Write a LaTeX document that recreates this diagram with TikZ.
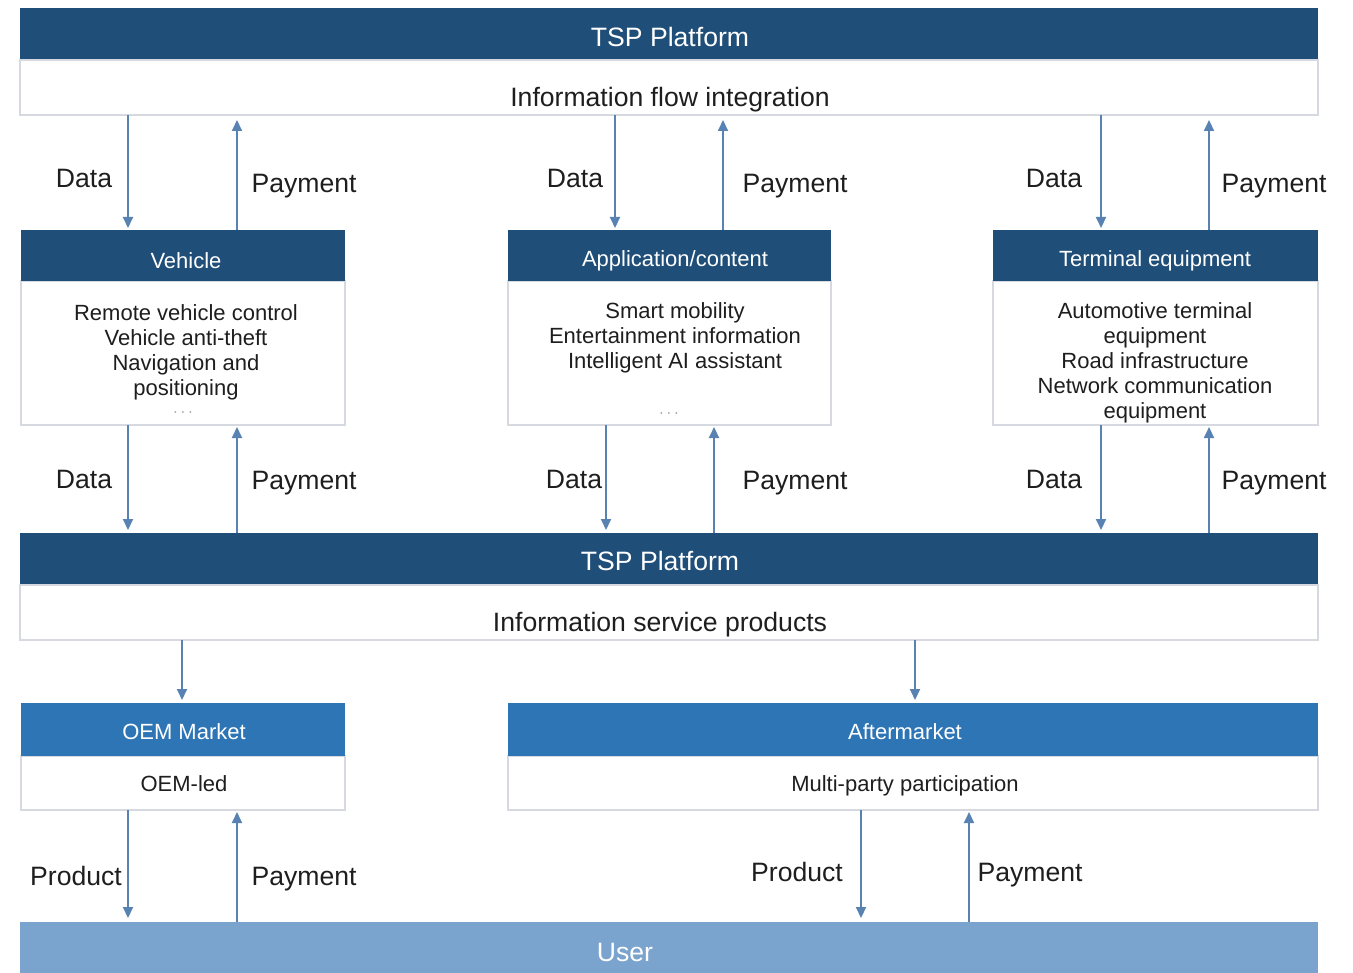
\documentclass[tikz,border=0pt]{standalone}
\usepackage{fontspec}
\setmainfont{Liberation Sans}
\usetikzlibrary{arrows.meta}
\definecolor{tspblue}{RGB}{31,78,121}
\definecolor{midblue}{RGB}{46,117,182}
\definecolor{userblue}{RGB}{122,163,206}
\definecolor{arrowblue}{RGB}{88,130,178}
\definecolor{boxline}{RGB}{214,218,224}
\definecolor{txt}{RGB}{30,30,30}
\begin{document}
\begin{tikzpicture}[x=0.5pt,y=-0.5pt,
  box/.style={anchor=north west, inner sep=0pt, outer sep=0pt},
  darkhdr/.style={box, fill=tspblue},
  midhdr/.style={box, fill=midblue},
  userbar/.style={box, fill=userblue},
  bodybox/.style={box, fill=white, draw=boxline, line width=0.8pt},
  bigtxt/.style={anchor=base, inner sep=0pt, text=txt, font=\fontsize{13.3}{16}\selectfont},
  hdrtxt/.style={anchor=base, inner sep=0pt, text=white, font=\fontsize{11}{12.5}\selectfont},
  bigwhite/.style={bigtxt, text=white},
  % multi-line texts: the base anchor sits on the last line
  smalltxt/.style={anchor=base, inner sep=0pt, text=txt, align=center, font=\fontsize{11}{12.5}\selectfont},
  dots/.style={inner sep=0pt, text=gray!80, font=\fontsize{8}{9}\selectfont},
  flow/.style={draw=arrowblue, line width=1pt, -{Triangle[length=5.5pt,width=5pt]}},
]
\useasboundingbox (0,0) rectangle (1353,973);

% ---- top TSP platform ----
\node[darkhdr, minimum width=649pt, minimum height=26pt] (tsp1h) at (20,8) {};
\node[bodybox, minimum width=649pt, minimum height=27.5pt] (tsp1b) at (20,60) {};
\node[bigwhite] (tsp1t) at (670,47) {TSP Platform};
\node[bigtxt] (tsp1s) at (670,107) {Information flow integration};

% ---- three middle boxes ----
\node[bodybox, minimum width=162pt, minimum height=72pt] (vehb) at (21,281) {};
\node[darkhdr, minimum width=162pt, minimum height=25.5pt] (vehh) at (21,230) {};
\node[hdrtxt] (veht) at (186,268) {Vehicle};
\node[smalltxt] (vehs) at (186,395) {Remote vehicle control\\Vehicle anti-theft\\Navigation and\\positioning};
\node[dots] (vehd) at (183,413) {$\cdots$};

\node[bodybox, minimum width=161.5pt, minimum height=72pt] (appb) at (508,281) {};
\node[darkhdr, minimum width=161.5pt, minimum height=25.5pt] (apph) at (508,230) {};
\node[hdrtxt] (appt) at (675,266) {Application/content};
\node[smalltxt] (apps) at (675,368) {Smart mobility\\Entertainment information\\Intelligent AI assistant};
\node[dots] (appd) at (669,414) {$\cdots$};

\node[bodybox, minimum width=162.5pt, minimum height=72pt] (terb) at (993,281) {};
\node[darkhdr, minimum width=162.5pt, minimum height=25.5pt] (terh) at (993,230) {};
\node[hdrtxt] (tert) at (1155,266) {Terminal equipment};
\node[smalltxt] (ters) at (1155,418) {Automotive terminal\\equipment\\Road infrastructure\\Network communication\\equipment};

% ---- lower TSP platform ----
\node[darkhdr, minimum width=649pt, minimum height=26pt] (tsp2h) at (20,533) {};
\node[bodybox, minimum width=649pt, minimum height=27.5pt] (tsp2b) at (20,585) {};
\node[bigwhite] (tsp2t) at (660,570) {TSP Platform};
\node[bigtxt] (tsp2s) at (660,631) {Information service products};

% ---- markets ----
\node[bodybox, minimum width=162pt, minimum height=27pt] (oemb) at (21,756) {};
\node[midhdr, minimum width=162pt, minimum height=26.5pt] (oemh) at (21,703) {};
\node[hdrtxt] (oemt) at (184,739) {OEM Market};
\node[smalltxt] (oems) at (184,791) {OEM-led};

\node[bodybox, minimum width=405pt, minimum height=27pt] (aftb) at (508,756) {};
\node[midhdr, minimum width=405pt, minimum height=26.5pt] (afth) at (508,703) {};
\node[hdrtxt] (aftt) at (905,739) {Aftermarket};
\node[smalltxt] (afts) at (905,791) {Multi-party participation};

% ---- user bar ----
\node[userbar, minimum width=649pt, minimum height=25.5pt] (user) at (20,922) {};
\node[bigwhite] (usert) at (625,961) {User};

% ---- connector columns ----
\coordinate (cA) at (128,0);  \coordinate (pA) at (237,0);
\coordinate (cB) at (615,0);  \coordinate (pB) at (723,0);
\coordinate (cC) at (1101,0); \coordinate (pC) at (1209,0);
\coordinate (cB2) at (606,0); \coordinate (pB2) at (714,0);
\coordinate (mL) at (182,0);  \coordinate (mR) at (915,0);
\coordinate (cR) at (861,0);  \coordinate (pR) at (969,0);

% platform -> sources
\draw[flow, shorten >=1pt] (tsp1b.south -| cA) -- (vehh.north -| cA);
\draw[flow, shorten >=2.5pt] (vehh.north -| pA) -- (tsp1b.south -| pA);
\draw[flow, shorten >=1pt] (tsp1b.south -| cB) -- (apph.north -| cB);
\draw[flow, shorten >=2.5pt] (apph.north -| pB) -- (tsp1b.south -| pB);
\draw[flow, shorten >=1pt] (tsp1b.south -| cC) -- (terh.north -| cC);
\draw[flow, shorten >=2.5pt] (terh.north -| pC) -- (tsp1b.south -| pC);

% sources -> lower platform
\draw[flow, shorten >=1.5pt] (vehb.south -| cA) -- (tsp2h.north -| cA);
\draw[flow, shorten >=1pt] (tsp2h.north -| pA) -- (vehb.south -| pA);
\draw[flow, shorten >=1.5pt] (appb.south -| cB2) -- (tsp2h.north -| cB2);
\draw[flow, shorten >=1pt] (tsp2h.north -| pB2) -- (appb.south -| pB2);
\draw[flow, shorten >=1.5pt] (terb.south -| cC) -- (tsp2h.north -| cC);
\draw[flow, shorten >=1pt] (tsp2h.north -| pC) -- (terb.south -| pC);

% lower platform -> markets
\draw[flow, shorten >=1.5pt] (tsp2b.south -| mL) -- (oemh.north -| mL);
\draw[flow, shorten >=1.5pt] (tsp2b.south -| mR) -- (afth.north -| mR);

% markets <-> user
\draw[flow, shorten >=2pt] (oemb.south -| cA) -- (user.north -| cA);
\draw[flow, shorten >=1pt] (user.north -| pA) -- (oemb.south -| pA);
\draw[flow, shorten >=2pt] (aftb.south -| cR) -- (user.north -| cR);
\draw[flow, shorten >=1pt] (user.north -| pR) -- (aftb.south -| pR);

% ---- flow labels ----
\node[bigtxt] (l1) at (84,188) {Data};
\node[bigtxt] (l2) at (304,192) {Payment};
\node[bigtxt] (l3) at (575,188) {Data};
\node[bigtxt] (l4) at (795,192) {Payment};
\node[bigtxt] (l5) at (1054,188) {Data};
\node[bigtxt] (l6) at (1274,192) {Payment};

\node[bigtxt] (l7) at (84,488) {Data};
\node[bigtxt] (l8) at (304,489) {Payment};
\node[bigtxt] (l9) at (574,488) {Data};
\node[bigtxt] (l10) at (795,489) {Payment};
\node[bigtxt] (l11) at (1054,488) {Data};
\node[bigtxt] (l12) at (1274,489) {Payment};

\node[bigtxt] (l13) at (76,885) {Product};
\node[bigtxt] (l14) at (304,885) {Payment};
\node[bigtxt] (l15) at (797,881) {Product};
\node[bigtxt] (l16) at (1030,881) {Payment};
\end{tikzpicture}
\end{document}
